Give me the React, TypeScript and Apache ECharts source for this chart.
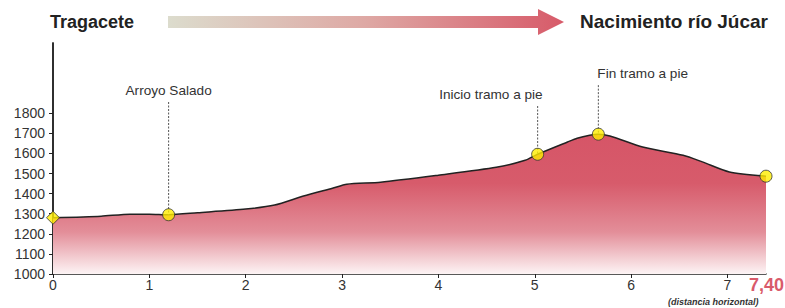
import React, { useEffect, useRef } from "react";
import * as echarts from "echarts";

// Profile data (km, metres)
const distances = [0, 0.5, 0.8, 1.0, 1.2, 1.5, 2.0, 2.3, 2.6, 2.9, 3.05, 3.4, 4.0, 4.6, 4.9, 5.03, 5.34, 5.44, 5.57, 5.66, 5.78, 6.12, 6.54, 6.74, 7.02, 7.4];
const elevations = [1280, 1288, 1298, 1298, 1295, 1305, 1323, 1343, 1388, 1427, 1447, 1457, 1492, 1531, 1566, 1596, 1657, 1676, 1691, 1696, 1687, 1632, 1591, 1558, 1508, 1487];

// Waypoints
const waypointNames = ["Arroyo Salado", "Inicio tramo a pie", "Fin tramo a pie"];
const waypointKm = [1.2, 5.03, 5.66];
const waypointElev = [1295, 1596, 1696];
const waypointLabelElev = [1916, 1896, 2000];

const startPoint = [0, 1280];
const endPoint = [7.4, 1487];

const xLabels = [0, 1, 2, 3, 4, 5, 6, 7];
const xHalfTicks = [0.5, 1.5, 2.5, 3.5, 4.5, 5.5, 6.5];
const yLabels = [1000, 1100, 1200, 1300, 1400, 1500, 1600, 1700, 1800];

const FONT = "Liberation Sans, Arial, Helvetica, sans-serif";

export default function App() {
  const ref = useRef<HTMLDivElement>(null);
  useEffect(() => {
    if (!ref.current) return;
    const chart = echarts.init(ref.current, undefined, { renderer: "svg" });
    const aligns = ["center", "right", "left"];
    const dx = [0, 5, -1];
    const option: any = {
      animation: false,
      grid: { left: 53, right: 19, top: 43, bottom: 34, containLabel: false },
      xAxis: [
        {
          type: "value",
          min: 0,
          max: 7.4,
          interval: 1,
          splitLine: { show: false },
          axisLine: { show: true, lineStyle: { color: "#222", width: 1.5 } },
          axisTick: { show: true, customValues: xLabels, length: 4, lineStyle: { color: "#222" } },
          axisLabel: { customValues: xLabels, fontSize: 14, color: "#333", margin: 4, fontFamily: FONT, formatter: (v: number) => String(v) },
        },
        {
          type: "value",
          min: 0,
          max: 7.4,
          position: "bottom",
          splitLine: { show: false },
          axisLine: { show: false },
          axisTick: { show: true, customValues: xHalfTicks, inside: true, length: 3, lineStyle: { color: "#222" } },
          axisLabel: { show: false },
        },
      ],
      yAxis: [
        {
          type: "value",
          min: 1000,
          max: 2150,
          interval: 50,
          splitLine: { show: false },
          axisLine: { show: true, lineStyle: { color: "#222", width: 1.5 } },
          axisTick: { show: true, customValues: yLabels, length: 4, lineStyle: { color: "#222" } },
          axisLabel: { customValues: yLabels, fontSize: 14, color: "#333", margin: 8, fontFamily: FONT, formatter: (v: number) => String(v) },
        },
        {
          type: "value",
          position: "right",
          min: 1000,
          max: 2150,
          splitLine: { show: false },
          axisLine: { show: true, lineStyle: { color: "#222", width: 1.5 } },
          axisTick: { show: false },
          axisLabel: { show: false },
        },
      ],
      series: [
        {
          type: "line",
          data: distances.map((d, i) => [d, elevations[i]]),
          smooth: 0.25,
          showSymbol: false,
          lineStyle: { color: "#222", width: 1.5 },
          areaStyle: {
            origin: "start",
            opacity: 1,
            color: new echarts.graphic.LinearGradient(0, 0, 0, 1, [
              { offset: 0, color: "#d65567" },
              { offset: 0.35, color: "#d75b6b" },
              { offset: 0.7, color: "#e38e99" },
              { offset: 1, color: "#fdf4f5" },
            ]),
          },
          z: 2,
        },
        {
          type: "custom",
          data: waypointKm.map((k, i) => [k, waypointElev[i], waypointLabelElev[i]]),
          renderItem: (params: any, api: any) => {
            const p = api.coord([api.value(0), api.value(1)]);
            const t = api.coord([api.value(0), api.value(2)]);
            const i = params.dataIndex;
            return {
              type: "group",
              children: [
                {
                  type: "line",
                  shape: { x1: p[0], y1: t[1] + 12, x2: p[0], y2: p[1] },
                  style: { stroke: "#555", lineWidth: 1, lineDash: [2, 1.5] },
                },
                {
                  type: "text",
                  x: p[0] + dx[i],
                  y: t[1],
                  style: {
                    text: waypointNames[i],
                    align: aligns[i],
                    verticalAlign: "middle",
                    fontSize: 13.6,
                    fill: "#333",
                    fontFamily: FONT,
                  },
                },
              ],
            };
          },
          z: 3,
        },
        {
          type: "scatter",
          data: waypointKm.map((k, i) => [k, waypointElev[i]]).concat([endPoint]),
          symbol: "circle",
          symbolSize: 12,
          itemStyle: { color: "#ffee00", borderColor: "#333", borderWidth: 1 },
          z: 4,
        },
        {
          type: "scatter",
          data: [startPoint],
          symbol: "diamond",
          symbolSize: [13, 13],
          itemStyle: { color: "#ffee00", borderColor: "#333", borderWidth: 1 },
          z: 4,
        },
      ],
      graphic: [
        {
          type: "text",
          left: 50,
          top: 13,
          style: { text: "Tragacete", fontSize: 18, fontWeight: "bold", fill: "#222", fontFamily: FONT },
        },
        {
          type: "text",
          right: 17,
          top: 12,
          style: { text: "Nacimiento río Júcar", fontSize: 19, fontWeight: "bold", fill: "#222", fontFamily: FONT },
        },
        {
          type: "polygon",
          shape: {
            points: [
              [168, 16],
              [538, 16],
              [538, 9],
              [564, 22],
              [538, 35],
              [538, 28],
              [168, 28],
            ],
          },
          style: {
            fill: new echarts.graphic.LinearGradient(0, 0, 1, 0, [
              { offset: 0, color: "#dcdccd" },
              { offset: 0.5, color: "#dea8a4" },
              { offset: 1, color: "#d75a69" },
            ]),
          },
        },
        {
          type: "text",
          right: 1,
          top: 276,
          style: { text: "7,40", fontSize: 18, fontWeight: "bold", fill: "#d95a6a", fontFamily: FONT },
        },
        {
          type: "text",
          left: 668,
          top: 297,
          style: {
            text: "(distancia horizontal)",
            fontSize: 9,
            fontWeight: "bold",
            fontStyle: "italic",
            fill: "#333",
            fontFamily: FONT,
          },
        },
      ],
    };
    chart.setOption(option);
    return () => chart.dispose();
  }, []);
  return <div ref={ref} style={{ width: 785, height: 308, position: "absolute", left: 0, top: 0 }} />;
}
